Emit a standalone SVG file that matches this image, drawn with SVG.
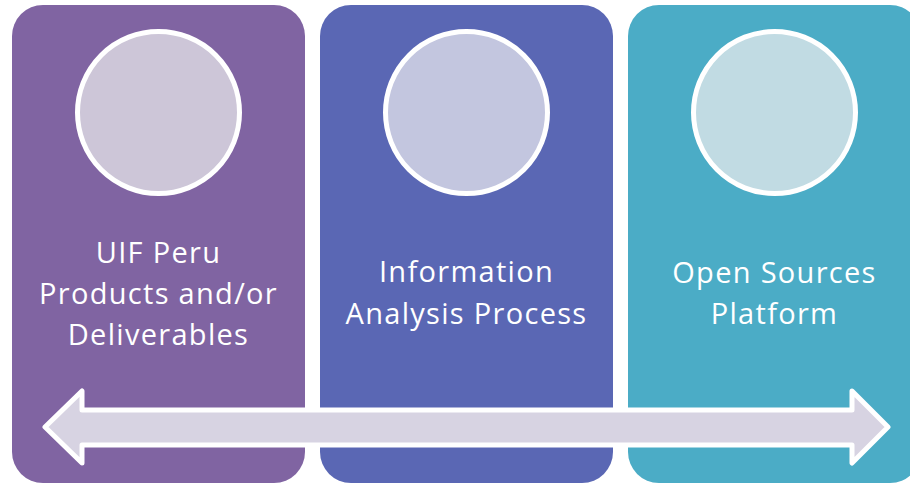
<svg xmlns="http://www.w3.org/2000/svg" width="910" height="485" viewBox="0 0 910 485">
<style>
.lbl{font-family:"Open Sans","Liberation Sans",sans-serif;font-size:29px;fill:#fff;text-anchor:middle;letter-spacing:1.3px}
.ring{stroke:#fff;stroke-width:5}
</style>
<rect width="910" height="485" fill="#fff"/>
<g id="panel1">
<rect x="12" y="5" width="293" height="478" rx="31" fill="#8064A2"/>
<circle class="ring" cx="158.5" cy="112.5" r="81" fill="#CDC6D8"/>
<text class="lbl" x="158.5" y="263">UIF Peru</text>
<text class="lbl" x="158.5" y="304">Products and/or</text>
<text class="lbl" x="158.5" y="345">Deliverables</text>
</g>
<g id="panel2">
<rect x="320" y="5" width="293" height="478" rx="31" fill="#5A67B4"/>
<circle class="ring" cx="466.5" cy="112.5" r="81" fill="#C3C6DF"/>
<text class="lbl" x="466.5" y="282">Information</text>
<text class="lbl" x="466.5" y="324">Analysis Process</text>
</g>
<g id="panel3">
<rect x="628" y="5" width="293" height="478" rx="31" fill="#4BACC6"/>
<circle class="ring" cx="774.5" cy="112.5" r="81" fill="#C1DBE3"/>
<text class="lbl" x="774.5" y="283">Open Sources</text>
<text class="lbl" x="774.5" y="324">Platform</text>
</g>
<g id="connectors">
<polygon points="45,427 82,391 82,410 852,410 852,391 888,427 852,463 852,445 82,445 82,463" fill="#D7D3E2" stroke="#fff" stroke-width="5" stroke-linejoin="round"/>
</g>
</svg>
